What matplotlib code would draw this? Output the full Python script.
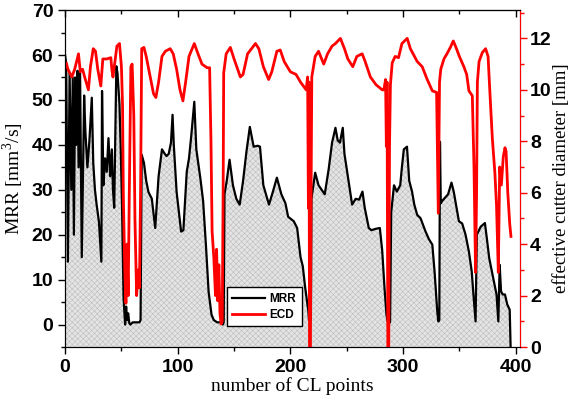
import matplotlib
matplotlib.use("Agg")
import matplotlib.pyplot as plt
from matplotlib.ticker import MultipleLocator
import numpy as np

# MRR (black), vertices
mrr_x = [0, 1, 2.5, 4, 5.5, 6.8, 7.8, 8.9, 9.8, 11, 12, 13.3, 14.8, 16.9, 18, 19.8, 21.6,
         23.7, 25, 26.5, 28, 30, 32.2, 32.8, 34, 35.5, 37, 38.5, 40, 41.5, 42.5, 43.6, 44.5,
         45.5, 46.5, 48.3, 49.5, 50.5, 51.9, 53.3, 54.2, 55, 56, 57, 58, 60, 63, 66, 67,
         68, 70, 72, 74, 77, 80, 83, 86, 88.5, 90, 92, 94, 95.4, 96.5, 99, 101, 103, 105,
         108, 110, 112, 114.7, 116.5, 120, 122.5, 125, 127.4, 130, 132, 135, 138, 140,
         140.8, 141.5, 143.5, 146, 149, 152, 155, 158, 161, 164, 167.4, 171, 173, 176, 181,
         184.5, 188, 192, 195.6, 198, 203, 206, 209, 211, 213, 216, 216.5, 218.2, 218.7,
         222, 225, 230.5, 234, 237, 240, 242, 244, 246.5, 248, 251.8, 254.8, 258, 261, 264,
         266, 269.6, 272, 275.5, 279.4, 281.5, 283.6, 285.3, 286.5, 288.5, 289.5, 292,
         294.5, 297.5, 299, 300.7, 303.5, 305.5, 308, 310, 312.6, 315.5, 320, 323, 326, 328,
         330.4, 331.3, 332.2, 332.8, 333.5, 335, 340, 343, 345, 347.5, 349.6, 352.5, 355.5,
         358.5, 361, 362.5, 364.4, 365.5, 369, 372.7, 374.5, 376.5, 380, 383, 384.6, 385.8,
         387, 388.5, 390.5, 392.5, 394.7, 395.5]
mrr_y = [60, 58, 14, 56, 30, 55, 20, 55, 40, 56.5, 35, 56, 15, 51, 43, 35, 41,
         50.5, 36, 30, 26.7, 23, 14, 52, 31, 37, 34, 41.5, 33, 39, 30, 26, 41,
         57.5, 56, 49, 38, 27, 6, 0, 4, 1, 2.5, 0.3, 0, 0.5, 0.5, 0.5, 1,
         37.8, 36, 32, 29.5, 28, 21.5, 33, 39, 38, 37.5, 38, 40.5, 46.7, 40, 29.5, 25, 20.7, 21,
         34, 37, 42, 49.6, 39, 32.7, 27.6, 17.8, 7.3, 2.2, 1, 0.5, 0.5, 0,
         0.5, 29, 32, 36.7, 31, 28, 26.7, 32, 38.5, 44, 39.6, 39.8, 39.6, 31, 26.7,
         29.6, 32.7, 29, 27, 24, 23, 21.5, 15, 13, 8.5, 2.9, 1, 1, 28,
         33.8, 31, 29, 34.6, 40.5, 43.8, 41, 40.5, 43.8, 38, 31.7, 26.7, 28, 27.8, 29.6,
         26, 21.5, 21, 21.3, 21.5, 16.5, 8, 2.2, 0.5, 0.5, 25, 31,
         29.6, 31, 35, 39, 39.6, 32, 29.6, 26.7, 24.4, 23.7, 20.7, 19, 17.8, 11.8,
         2.9, 0.7, 1, 40.7, 27, 27.6, 29, 31.6, 29.6, 26, 23, 22.5, 20,
         16.2, 11.8, 6.7, 0.7, 20, 21.8, 22.6, 19, 14.8, 10.4, 6.7, 0.7, 13.3,
         7.4, 6.7, 6.7, 4.5, 3.3, -5]

# ECD (red), vertices
ecd_x = [0, 1, 2.5, 6, 8.5, 11.9, 13.5, 15.5, 18, 20.7, 22.5, 25, 27, 29, 31.7, 33.5, 37,
         40.6, 41.5, 42.5, 46, 48.3, 50, 51, 51.7, 53, 54, 55, 56, 57, 58.4, 59.5, 61, 62,
         63.5, 65, 66, 67, 68, 70, 72, 75.6, 78.5, 80.6, 83, 86, 89, 93.3, 96, 99, 102,
         104.6, 107, 110, 114.7, 118, 121.5, 126, 128.3, 129.5, 130.5, 132, 133.5, 134.5,
         135.5, 136.5, 137.5, 138.5, 139.5, 140.3, 140.8, 143, 146.7, 150, 155.6, 158, 162,
         169, 172, 176, 180.7, 183.5, 188, 191, 194.5, 200, 205, 209, 214, 215.3, 216,
         216.5, 217, 217.8, 218.3, 219, 222, 225, 229.6, 233, 237, 240, 244.4, 248, 251,
         255.4, 259, 263.7, 266, 271, 276, 281.5, 283, 284.5, 285.2, 285.8, 286.5, 287.3,
         288, 288.8, 290.4, 293, 296, 299, 303.7, 306.5, 312.6, 317, 321.5, 326, 329.8,
         331.3, 332.4, 333.5, 336.3, 339, 342, 344.6, 347, 350, 354, 356.5, 358.5, 361.5,
         363, 364.4, 365.3, 366, 367.5, 370.4, 373.3, 375.5, 377, 379.3, 381.5, 383, 384.6,
         385.8, 387.3, 389, 390.5, 391.5, 393, 394.7, 395.8]
ecd_y = [11.0, 11.05, 10.8, 10.5, 10.8, 11.4, 10.7, 10.8, 10.4, 10.0, 10.9, 11.6, 11.5, 10.8,
         10.15, 11.2, 11.2, 11.25, 10.8, 10.5, 11.7, 11.8, 10.9, 9.4, 5.9, 3, 1.7, 4, 2, 6,
         10.9, 11.0, 9, 5, 2.0, 3, 2.3, 6, 11.6, 11.65, 11.3, 10.5, 9.85, 9.7, 10.3, 11.3,
         11.5, 11.6, 11.4, 10.8, 10.0, 9.57, 10.3, 11.3, 11.8, 11.4, 11.0, 10.86, 10.86, 8,
         4.5, 3.5, 2.0, 3.8, 1.8, 3.2, 1.3, 0.9, 1.0, 6, 10.66, 11.4, 11.65, 11.2, 10.5,
         10.6, 11.4, 11.8, 11.6, 10.9, 10.4, 10.7, 11.5, 11.55, 11.1, 10.7, 10.6, 10.3, 10.0,
         10.5, 5.4, 10.3, 0, 0, 5.4, 10.5, 11.3, 11.5, 11.0, 11.4, 11.7, 11.8, 12.0, 11.6,
         11.2, 10.9, 11.3, 11.4, 11.15, 10.5, 10.2, 10.0, 10.0, 10.4, 7.8, 10.3, 0, 0, 7.8,
         10.2, 11.05, 11.3, 11.25, 11.8, 12.0, 11.6, 11.1, 10.9, 10.4, 9.96, 9.9, 5.2, 10.3,
         10.8, 11.2, 11.4, 11.65, 11.9, 11.65, 11.3, 10.9, 10.6, 9.96, 9.77, 7, 2.9, 6, 10.3,
         11.1, 11.45, 11.6, 11.3, 10.0, 8.1, 6.8, 5.5, 2.9, 7.0, 6.3, 7.4, 7.75, 7.6, 6.0,
         4.8, 4.3]

sans = "Liberation Sans"
serif = "Liberation Serif"
plt.rcParams["mathtext.fontset"] = "custom"
plt.rcParams["mathtext.rm"] = serif
plt.rcParams["hatch.color"] = "#bdbdbd"
plt.rcParams["hatch.linewidth"] = 0.4

fig = plt.figure(figsize=(5.71, 4.04), dpi=100)
ax = fig.add_axes([0.114, 0.141, 0.797, 0.834])
ax2 = ax.twinx()

ax.fill_between(mrr_x, mrr_y, -5, facecolor="#e4e4e4", edgecolor="#bdbdbd",
                hatch="xxxxxx", linewidth=0)
l1, = ax.plot(mrr_x, mrr_y, color="black", lw=1.6)
l2, = ax2.plot(ecd_x, ecd_y, color="red", lw=2.0)

ax.set_xlim(0, 404)
ax.set_ylim(-5, 70)
ax2.set_ylim(0, 13.1)

ax.xaxis.set_major_locator(MultipleLocator(100))
ax.xaxis.set_minor_locator(MultipleLocator(50))
ax.yaxis.set_major_locator(MultipleLocator(10))
ax.yaxis.set_minor_locator(MultipleLocator(5))
ax2.yaxis.set_major_locator(MultipleLocator(2))
ax2.yaxis.set_minor_locator(MultipleLocator(1))

ax.tick_params(axis="x", which="major", direction="out", length=5, width=1)
ax.tick_params(axis="x", which="minor", direction="out", length=3, width=1)
ax.tick_params(axis="y", which="major", direction="out", length=5, width=1)
ax.tick_params(axis="y", which="minor", direction="out", length=3, width=1)
ax2.tick_params(axis="y", which="major", direction="out", length=5, width=1, colors="red",
                labelcolor="black", pad=2)
ax2.tick_params(axis="y", which="minor", direction="out", length=3, width=1, colors="red")
ax2.spines["right"].set_color("red")

# top axis: ticks pointing inward, no labels
top = ax.secondary_xaxis("top")
top.xaxis.set_major_locator(MultipleLocator(100))
top.xaxis.set_minor_locator(MultipleLocator(50))
top.tick_params(which="major", direction="in", length=5, width=1, labeltop=False)
top.tick_params(which="minor", direction="in", length=3, width=1)

for a in (ax, ax2):
    for lab in a.get_xticklabels() + a.get_yticklabels():
        lab.set_fontfamily(sans)
        lab.set_fontweight("bold")
        lab.set_fontsize(14)

ax.set_xlabel("number of CL points", fontfamily=serif, fontsize=14, labelpad=1)
ax.set_ylabel("MRR [mm$^3$/s]", fontfamily=serif, fontsize=14, labelpad=4)
ax2.set_ylabel("effective cutter diameter [mm]", fontfamily=serif, fontsize=13.5,
               labelpad=1)

leg = ax2.legend([l1, l2], ["MRR", "ECD"], loc="lower left",
                 bbox_to_anchor=(0.355, 0.062), fancybox=False, edgecolor="black",
                 framealpha=1, handlelength=2.8, borderpad=0.45, labelspacing=0.35,
                 handletextpad=0.4, borderaxespad=0,
                 prop={"family": sans, "weight": "bold", "size": 8.5})
leg.get_frame().set_linewidth(1)

fig.savefig("out.png", dpi=100)
